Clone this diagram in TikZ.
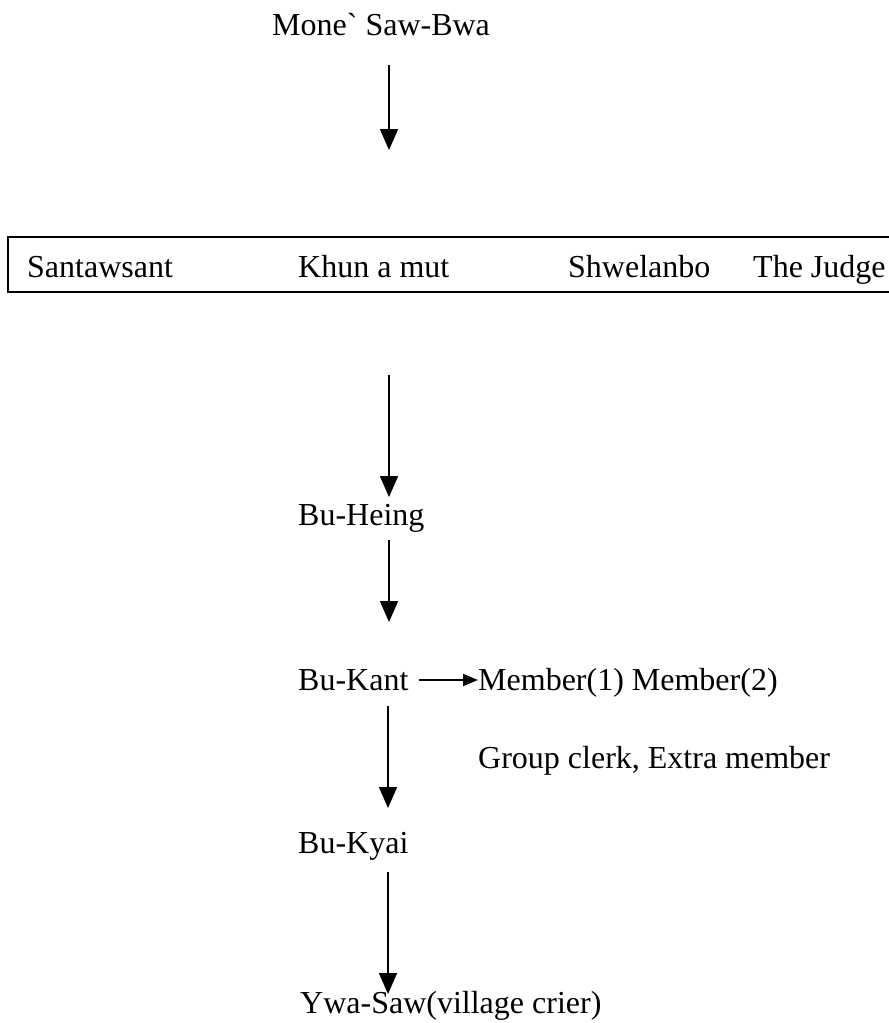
\documentclass[tikz,border=0pt]{standalone}
\usepackage{fontspec}
\setmainfont{Liberation Serif}
\usetikzlibrary{arrows.meta}
\begin{document}
\begin{tikzpicture}[x=1pt,y=-1pt,
  lbl/.style={anchor=base west,inner sep=0pt,font=\fontsize{32}{36}\selectfont},
  down/.style={line width=1.8pt,-{Triangle[length=21pt,width=18pt]}},
  side/.style={line width=1.8pt,-{Triangle[length=15pt,width=12pt]}},
  panel/.style={draw,line width=1.4pt}]
\useasboundingbox (0,0) rectangle (889,1023);
\fill[white] (0,0) rectangle (889,1023);

% head of the hierarchy
\node[lbl] (mone) at (272,35) {Mone\textasciigrave\ Saw-Bwa};

% council row in a frame that runs off the right edge
\draw[panel] (8,237) rectangle (900,292);
\node[lbl] (santaw) at (27,277) {Santawsant};
\node[lbl] (khun) at (298,277) {Khun a mut};
\node[lbl] (shwe) at (568,277) {Shwelanbo};
\node[lbl] (judge) at (753,277) {The Judge};

% lower ranks
\node[lbl] (heing) at (298,525) {Bu-Heing};
\node[lbl] (kant) at (298,690) {Bu-Kant};
\node[lbl] (members) at (478,690) {Member(1) Member(2)};
\node[lbl] (clerk) at (478,768) {Group clerk, Extra member};
\node[lbl] (kyai) at (298,853) {Bu-Kyai};
\node[lbl] (ywa) at (300,1013) {Ywa-Saw(village crier)};

% arrow end points on the main column
\coordinate (c1) at (389,65);  \coordinate (c2) at (389,150);
\coordinate (c3) at (389,375); \coordinate (c4) at (389,497);
\coordinate (c5) at (389,540); \coordinate (c6) at (389,622);
\coordinate (c7) at (388,706); \coordinate (c8) at (388,808);
\coordinate (c9) at (388,872); \coordinate (c10) at (388,994);

\draw[down] (c1) -- (c2);
\draw[down] (c3) -- (c4);
\draw[down] (c5) -- (c6);
\draw[down] (c7) -- (c8);
\draw[down] (c9) -- (c10);

% Bu-Kant to its members
\draw[side] ([xshift=10pt,yshift=10pt]kant.base east) -- ([yshift=10pt]members.base west);
\end{tikzpicture}
\end{document}
